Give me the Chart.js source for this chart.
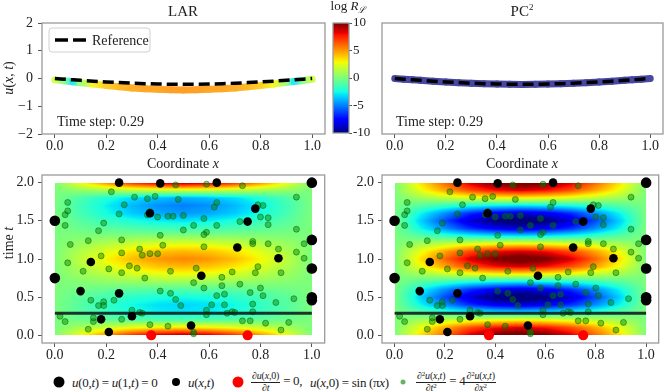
<!DOCTYPE html>
<html>
<head>
<meta charset="utf-8">
<script src="https://cdn.jsdelivr.net/npm/chart.js@4.4.1/dist/chart.umd.min.js"></script>
<style>
  body { margin: 0; background: #fff; }
  #fig { position: relative; width: 664px; height: 392px; overflow: hidden;
         font-family: 'Liberation Serif', 'DejaVu Serif', serif; color: #222; }
  #fig canvas { position: absolute; }
  .t { position: absolute; white-space: nowrap; line-height: 1; transform: translate(-50%, -50%); }
  .rot { transform: translate(-50%, -50%) rotate(-90deg); }
  .lt { position: absolute; white-space: nowrap; line-height: 1; transform: translateY(-50%); }
  .lg { position: absolute; white-space: nowrap; line-height: 1; transform: translateY(-50%); font-size: 13px; letter-spacing: -0.3px; }
  .mk { position: absolute; border-radius: 50%; transform: translate(-50%, -50%); }
  .frac { display: inline-block; vertical-align: middle; text-align: center; font-size: 10px; line-height: 1.05; letter-spacing: -0.2px; }
  .frac .n { display: block; border-bottom: 0.8px solid #222; padding: 0 1px; }
  .frac .d { display: block; }
  .frac sup { font-size: 7px; vertical-align: 3px; }
</style>
</head>
<body>
<div id="fig">
  <canvas id="tl" width="330" height="160" style="left:0;top:0"></canvas>
  <canvas id="tr" width="324" height="160" style="left:340px;top:0"></canvas>
  <canvas id="cb" width="45" height="145" style="left:330px;top:0"></canvas>
  <canvas id="bl" width="330" height="215" style="left:0;top:150px"></canvas>
  <canvas id="br" width="324" height="215" style="left:340px;top:150px"></canvas>

  <div class="t" style="left:183px;top:11px;font-size:15px">LAR</div>
  <div class="t" style="left:522px;top:11px;font-size:15px">PC<sup style="font-size:9px">2</sup></div>
  <div class="t" style="left:348px;top:7px;font-size:13px">log <i>R</i><sub style="font-size:9px"><i>ℒ</i></sub></div>
  <div class="t rot" style="left:9px;top:78px;font-size:14px"><i>u</i>(<i>x</i>, <i>t</i>)</div>
  <div class="t rot" style="left:9px;top:243px;font-size:14px">time <i>t</i></div>
  <div class="t" style="left:183px;top:164px;font-size:14px">Coordinate <i>x</i></div>
  <div class="t" style="left:522px;top:164px;font-size:14px">Coordinate <i>x</i></div>
  <div class="lt" style="left:57px;top:122px;font-size:14px">Time step: 0.29</div>
  <div class="lt" style="left:396px;top:122px;font-size:14px">Time step: 0.29</div>

  <div class="mk" style="left:59px;top:382px;width:11px;height:11px;background:#000"></div>
  <div class="lg" style="left:72px;top:382px"><i>u</i>(0,<i>t</i>) = <i>u</i>(1,<i>t</i>) = 0</div>
  <div class="mk" style="left:176px;top:382px;width:8px;height:8px;background:#000"></div>
  <div class="lg" style="left:188px;top:382px"><i>u</i>(<i>x</i>,<i>t</i>)</div>
  <div class="mk" style="left:238px;top:382px;width:11px;height:11px;background:#f00"></div>
  <div class="lg" style="left:251px;top:382px"><span class="frac"><span class="n">∂<i>u</i>(<i>x</i>,0)</span><span class="d">∂<i>t</i></span></span> = 0,</div>
  <div class="lg" style="left:310px;top:382px"><i>u</i>(<i>x</i>,0) = sin (π<i>x</i>)</div>
  <div class="mk" style="left:403px;top:382px;width:5px;height:5px;background:rgba(0,128,0,0.6)"></div>
  <div class="lg" style="left:416px;top:382px"><span class="frac"><span class="n">∂<sup>2</sup><i>u</i>(<i>x</i>,<i>t</i>)</span><span class="d">∂<i>t</i><sup>2</sup></span></span> = 4<span class="frac"><span class="n">∂<sup>2</sup><i>u</i>(<i>x</i>,<i>t</i>)</span><span class="d">∂<i>x</i><sup>2</sup></span></span></div>
</div>

<script>
// ---- tick labels
const xTicks = [0, 0.2, 0.4, 0.6, 0.8, 1.0];
const uTicks = [-2, -1, 0, 1, 2];
const tTicks = [0, 0.5, 1.0, 1.5, 2.0];
const cbarTicks = [-10, -5, 0, 5, 10];

// ---- top row: solution along x at t = 0.29
const lineX   = [0, 0.035, 0.07, 0.1, 0.15, 0.2, 0.25, 0.3, 0.35, 0.4, 0.45, 0.5, 0.55, 0.6, 0.65, 0.7, 0.75, 0.8, 0.85, 0.9, 0.93, 0.965, 1];
const refU    = [0, -0.023, -0.046, -0.065, -0.095, -0.123, -0.148, -0.17, -0.187, -0.2, -0.207, -0.21, -0.207, -0.2, -0.187, -0.17, -0.148, -0.123, -0.095, -0.065, -0.046, -0.023, 0];
const larU    = [-0.05, -0.08, -0.12, -0.15, -0.2, -0.25, -0.3, -0.34, -0.37, -0.39, -0.405, -0.41, -0.405, -0.39, -0.37, -0.34, -0.3, -0.25, -0.2, -0.14, -0.11, -0.07, -0.03];
const larLogR = [2, 0, -3, 0.5, 3, 4, 4.5, 4.8, 5, 5, 5.2, 5.2, 5.2, 5, 5, 4.8, 4.5, 4, 3, 0.5, -3, 0, 2];
const pcU     = [0, -0.024, -0.047, -0.066, -0.096, -0.124, -0.15, -0.172, -0.189, -0.202, -0.209, -0.212, -0.209, -0.202, -0.189, -0.172, -0.15, -0.124, -0.096, -0.066, -0.047, -0.024, 0];
const pcLogR  = [-10, -10, -10, -10, -10, -10, -10, -10, -10, -10, -10, -10, -10, -10, -10, -10, -10, -10, -10, -10, -10, -10, -10];

// ---- bottom row: log residual field, rows along t (0..2 step 0.1), profile along x (0..1 step 0.1)
const heatT = [0, 0.1, 0.2, 0.3, 0.4, 0.5, 0.6, 0.7, 0.8, 0.9, 1.0, 1.1, 1.2, 1.3, 1.4, 1.5, 1.6, 1.7, 1.8, 1.9, 2.0];
const heatX = [0, 0.1, 0.2, 0.3, 0.4, 0.5, 0.6, 0.7, 0.8, 0.9, 1.0];
const larRows = [9.5, 3.5, -1, -3, -3.3, -2.5, -1, 0.8, 2.7, 4.3, 5.4, 4.3, 2.4, 0.3, -1.5, -3, -4.5, -5, -4, 2, 9.5];
const pcRows  = [11, 8.5, 3, -3, -8.5, -11, -8.5, -3, 3, 8.5, 11, 8.5, 3, -3, -8.5, -11, -8.5, -3, 3, 8.5, 11];
const xProfile = [0, 0.3, 0.55, 0.78, 0.93, 1, 0.93, 0.78, 0.55, 0.3, 0];

// collocation points (green)
const colX = [0.22, 0.47, 0.59, 0.73, 0.05, 0.31, 0.36, 0.39, 0.48, 0.27, 0.63, 0.62, 0.79, 0.81, 0.94, 0.05, 0.04, 0.25, 0.36, 0.37,
  0.40, 0.44, 0.46, 0.50, 0.58, 0.80, 0.83, 0.72, 0.04, 0.19, 0.17, 0.54, 0.63, 0.50, 0.83, 0.94, 0.41, 0.59, 0.58, 0.06,
  0.13, 0.26, 0.42, 0.33, 0.34, 0.37, 0.40, 0.26, 0.18, 0.58, 0.77, 0.77, 0.83, 0.87, 0.94, 0.97, 0.97, 0.05, 0.11, 0.21,
  0.26, 0.29, 0.32, 0.45, 0.55, 0.69, 0.79, 0.78, 0.88, 0.35, 0.54, 0.58, 0.65, 0.65, 0.72, 0.10, 0.41, 0.45, 0.47, 0.63,
  0.66, 0.76, 0.80, 0.81, 0.14, 0.19, 0.19, 0.23, 0.17, 0.49, 0.61, 0.66, 0.59, 0.77, 0.77, 0.86, 0.93, 0.02, 0.04, 0.15,
  0.15, 0.30, 0.30, 0.33, 0.34, 0.26, 0.37, 0.44, 0.59, 0.69, 0.70, 0.67, 0.73, 0.76, 0.82, 0.91, 0.13, 0.54, 0.54, 0.88];
const colT = [1.88, 1.97, 1.98, 1.96, 1.74, 1.81, 1.79, 1.82, 1.78, 1.71, 1.74, 1.68, 1.71, 1.70, 1.81, 1.63, 1.58, 1.59, 1.58, 1.62,
  1.55, 1.56, 1.56, 1.57, 1.53, 1.55, 1.54, 1.49, 1.44, 1.47, 1.37, 1.44, 1.44, 1.38, 1.45, 1.39, 1.31, 1.35, 1.32, 1.19,
  1.24, 1.25, 1.18, 1.13, 1.05, 1.07, 1.07, 1.08, 1.04, 1.16, 1.23, 1.20, 1.20, 1.13, 1.09, 1.20, 1.01, 0.95, 0.84, 0.87,
  0.82, 0.91, 0.88, 0.84, 0.88, 0.83, 0.90, 0.82, 0.82, 0.75, 0.69, 0.62, 0.76, 0.65, 0.67, 0.56, 0.58, 0.55, 0.47, 0.52,
  0.54, 0.56, 0.62, 0.52, 0.46, 0.44, 0.39, 0.46, 0.39, 0.39, 0.40, 0.40, 0.33, 0.41, 0.31, 0.43, 0.48, 0.25, 0.18, 0.18,
  0.23, 0.33, 0.25, 0.30, 0.29, 0.21, 0.14, 0.12, 0.27, 0.31, 0.30, 0.29, 0.19, 0.19, 0.16, 0.17, 0.08, 0.02, 0.04, 0.07];
// observed u(x,t) (small black)
const obsX = [0.25, 0.41, 0.63, 0.37, 0.78, 0.75, 0.71, 0.14, 0.87, 0.57, 0.10, 0.25, 0.30, 0.18, 0.53, 0.21];
const obsT = [2.0, 1.99, 2.0, 1.6, 1.66, 1.49, 1.15, 0.96, 1.01, 0.78, 0.58, 0.55, 0.25, 0.21, 0.13, 0.045];
// boundary points (big black)
const bndX = [0, 0, 1, 1, 1, 1, 1];
const bndT = [1.5, 0.75, 2.0, 1.25, 0.875, 0.5, 0.46];
// initial condition points (red)
const icX = [0.375, 0.75];
const icT = [0, 0];
const timeStep = 0.29;

// ---- helpers
function jet(v) {
  const f = Math.min(1, Math.max(0, (v + 10) / 20));
  let r, g, b;
  r = f < 0.35 ? 0 : f < 0.66 ? (f - 0.35) / 0.31 : f < 0.89 ? 1 : 1 - 0.5 * (f - 0.89) / 0.11;
  g = f < 0.125 ? 0 : f < 0.375 ? (f - 0.125) / 0.25 : f < 0.64 ? 1 : f < 0.91 ? 1 - (f - 0.64) / 0.27 : 0;
  b = f < 0.11 ? 0.5 + 0.5 * f / 0.11 : f < 0.34 ? 1 : f < 0.65 ? 1 - (f - 0.34) / 0.31 : 0;
  return [r * 255, g * 255, b * 255];
}
function jetCss(v, a) {
  const c = jet(v).map(k => Math.round(k * a + 255 * (1 - a)));
  return `rgb(${c[0]},${c[1]},${c[2]})`;
}
function lerpArr(grid, vals, q) {
  if (q <= grid[0]) return vals[0];
  for (let i = 0; i < grid.length - 1; i++) {
    if (q <= grid[i + 1]) {
      const w = (q - grid[i]) / (grid[i + 1] - grid[i]);
      return vals[i] * (1 - w) + vals[i + 1] * w;
    }
  }
  return vals[vals.length - 1];
}
const pts = (xs, ys) => xs.map((x, i) => ({ x, y: ys[i] }));
const fixTicks = arr => s => { s.ticks = arr.map(v => ({ value: v })); };
const bandColor = (logR, a) => c => {
  const g = c.chart.ctx.createLinearGradient(c.p0.x, 0, c.p1.x + 0.01, 0);
  g.addColorStop(0, jetCss(logR[c.p0DataIndex], a));
  g.addColorStop(1, jetCss(logR[c.p1DataIndex], a));
  return g;
};

// ---- plugins
const framePlugin = {
  id: 'frame',
  afterDraw(chart) {
    const a = chart.chartArea, ctx = chart.ctx;
    ctx.save();
    ctx.strokeStyle = '#9a9a9a';
    ctx.lineWidth = 1.3;
    ctx.strokeRect(a.left, a.top, a.right - a.left, a.bottom - a.top);
    ctx.restore();
  }
};
const heatPlugin = {
  id: 'heat',
  beforeDatasetsDraw(chart, args, opts) {
    if (!opts.rows) return;
    const xs = chart.scales.x, ys = chart.scales.y, ctx = chart.ctx;
    const px0 = Math.round(xs.getPixelForValue(0)), px1 = Math.round(xs.getPixelForValue(1));
    const py0 = Math.round(ys.getPixelForValue(2)), py1 = Math.round(ys.getPixelForValue(0));
    const w = px1 - px0, h = py1 - py0;
    const off = document.createElement('canvas');
    off.width = w; off.height = h;
    const octx = off.getContext('2d');
    const img = octx.createImageData(w, h);
    for (let j = 0; j < h; j++) {
      const t = ys.getValueForPixel(py0 + j + 0.5);
      const row = lerpArr(heatT, opts.rows, t);
      for (let i = 0; i < w; i++) {
        const x = xs.getValueForPixel(px0 + i + 0.5);
        const c = jet(row * lerpArr(heatX, xProfile, x));
        const k = (j * w + i) * 4;
        img.data[k] = c[0]; img.data[k + 1] = c[1]; img.data[k + 2] = c[2]; img.data[k + 3] = 255;
      }
    }
    octx.putImageData(img, 0, 0);
    ctx.drawImage(off, px0, py0);
  }
};
const refLegendPlugin = {
  id: 'refLegend',
  afterDatasetsDraw(chart, args, opts) {
    if (!opts.show) return;
    const a = chart.chartArea, ctx = chart.ctx;
    const x = a.left + 7, y = a.top + 5, w = 101, h = 24;
    ctx.save();
    ctx.fillStyle = 'rgba(255,255,255,0.85)';
    ctx.strokeStyle = '#d0d0d0';
    ctx.lineWidth = 1;
    ctx.beginPath();
    ctx.roundRect(x, y, w, h, 3);
    ctx.fill(); ctx.stroke();
    ctx.strokeStyle = '#000';
    ctx.lineWidth = 3.5;
    ctx.setLineDash([13, 5]);
    ctx.beginPath();
    ctx.moveTo(x + 6, y + h / 2);
    ctx.lineTo(x + 38, y + h / 2);
    ctx.stroke();
    ctx.setLineDash([]);
    ctx.fillStyle = '#222';
    ctx.font = "14px 'Liberation Serif', serif";
    ctx.textBaseline = 'middle';
    ctx.fillText(chart.data.datasets[0].label, x + 43, y + h / 2 + 1);
    ctx.restore();
  }
};
const cbarPlugin = {
  id: 'cbar',
  beforeDatasetsDraw(chart, args, opts) {
    if (!opts.show) return;
    const a = chart.chartArea, ys = chart.scales.y, ctx = chart.ctx;
    for (let y = Math.floor(a.top); y < a.bottom; y++) {
      ctx.fillStyle = jetCss(ys.getValueForPixel(y + 0.5), 1);
      ctx.fillRect(a.left, y, a.right - a.left, 1);
    }
  }
};
Chart.register(framePlugin, heatPlugin, refLegendPlugin, cbarPlugin);

Chart.defaults.font.family = "'Liberation Serif', 'DejaVu Serif', serif";
Chart.defaults.font.size = 14;
Chart.defaults.color = '#222';
Chart.defaults.animation = false;
Chart.defaults.responsive = false;
Chart.defaults.plugins.legend.display = false;
Chart.defaults.plugins.tooltip.enabled = false;

const minus = v => (v < 0 ? '\u2212' : '') + Math.abs(v);

function xAxis(height) {
  return {
    type: 'linear', min: -0.05, max: 1.05,
    afterBuildTicks: fixTicks(xTicks),
    afterFit: s => { s.height = height; },
    grid: { drawOnChartArea: false, drawTicks: true, tickLength: 4, color: '#555' },
    border: { display: false },
    ticks: { padding: 0, maxRotation: 0, autoSkip: false, callback: v => v.toFixed(1) }
  };
}
function yAxis(min, max, ticks, fmt, show, pad) {
  return {
    type: 'linear', min, max,
    afterBuildTicks: fixTicks(ticks),
    afterFit: s => { s.width = 42; },
    grid: { drawOnChartArea: false, drawTicks: show, tickLength: 4, color: '#555' },
    border: { display: false },
    ticks: { display: show, padding: pad, autoSkip: false, callback: fmt }
  };
}

function topChart(id, uVals, logR, alpha, title) {
  return new Chart(document.getElementById(id), {
    type: 'scatter',
    data: {
      datasets: [
        { label: 'Reference', data: pts(lineX, refU), showLine: true, borderColor: '#000',
          borderWidth: 3.5, borderDash: [11, 5], pointRadius: 0 },
        { label: title, data: pts(lineX, uVals), showLine: true, borderWidth: 7, pointRadius: 0,
          borderCapStyle: 'round', borderJoinStyle: 'round',
          segment: { borderColor: bandColor(logR, alpha) } }
      ]
    },
    options: {
      layout: { padding: { top: 23, right: id === 'tl' ? 5 : 1, left: 0, bottom: 0 } },
      scales: {
        x: xAxis(26),
        y: id === 'tl' ? yAxis(-2, 2, uTicks, minus, true, 5) : yAxis(-2, 2, uTicks, minus, false, 5)
      },
      plugins: { refLegend: { show: id === 'tl' } }
    }
  });
}

function bottomChart(id, rows, right) {
  return new Chart(document.getElementById(id), {
    type: 'scatter',
    data: {
      datasets: [
        { label: 'initial', data: pts(icX, icT), pointRadius: 5, backgroundColor: '#ff0000', borderWidth: 0 },
        { label: 'boundary', data: pts(bndX, bndT), pointRadius: 5.3, backgroundColor: '#000', borderWidth: 0 },
        { label: 'data', data: pts(obsX, obsT), pointRadius: 4.3, backgroundColor: '#000', borderWidth: 0 },
        { label: 'time step', data: [{ x: 0, y: timeStep }, { x: 1, y: timeStep }], showLine: true,
          borderColor: 'rgba(20,30,30,0.9)', borderWidth: 3, pointRadius: 0 },
        { label: 'collocation', data: pts(colX, colT), pointRadius: 3,
          backgroundColor: 'rgba(0,128,0,0.45)', borderColor: 'rgba(0,100,0,0.5)', borderWidth: 1 }
      ]
    },
    options: {
      layout: { padding: { top: 25, right: right, left: 0, bottom: 0 } },
      scales: {
        x: xAxis(22),
        y: yAxis(-0.1, 2.1, tTicks, v => v.toFixed(1), true, 4)
      },
      plugins: { heat: { rows } }
    }
  });
}

topChart('tl', larU, larLogR, 0.85, 'LAR');
topChart('tr', pcU, pcLogR, 0.72, 'PC2');
bottomChart('bl', larRows, 5);
bottomChart('br', pcRows, 1);

new Chart(document.getElementById('cb'), {
  type: 'scatter',
  data: { datasets: [{ data: [] }] },
  options: {
    layout: { padding: { top: 23, left: 3, right: 0, bottom: 12 } },
    scales: {
      x: { display: false, min: 0, max: 1 },
      y: {
        position: 'right', min: -10, max: 10,
        afterBuildTicks: fixTicks(cbarTicks),
        afterFit: s => { s.width = 26; },
        grid: { drawOnChartArea: false, drawTicks: true, tickLength: 3, color: '#555' },
        border: { display: false },
        ticks: { padding: 1, font: { size: 13 }, callback: v => String(v) }
      }
    },
    plugins: { cbar: { show: true } }
  }
});
</script>
</body>
</html>
